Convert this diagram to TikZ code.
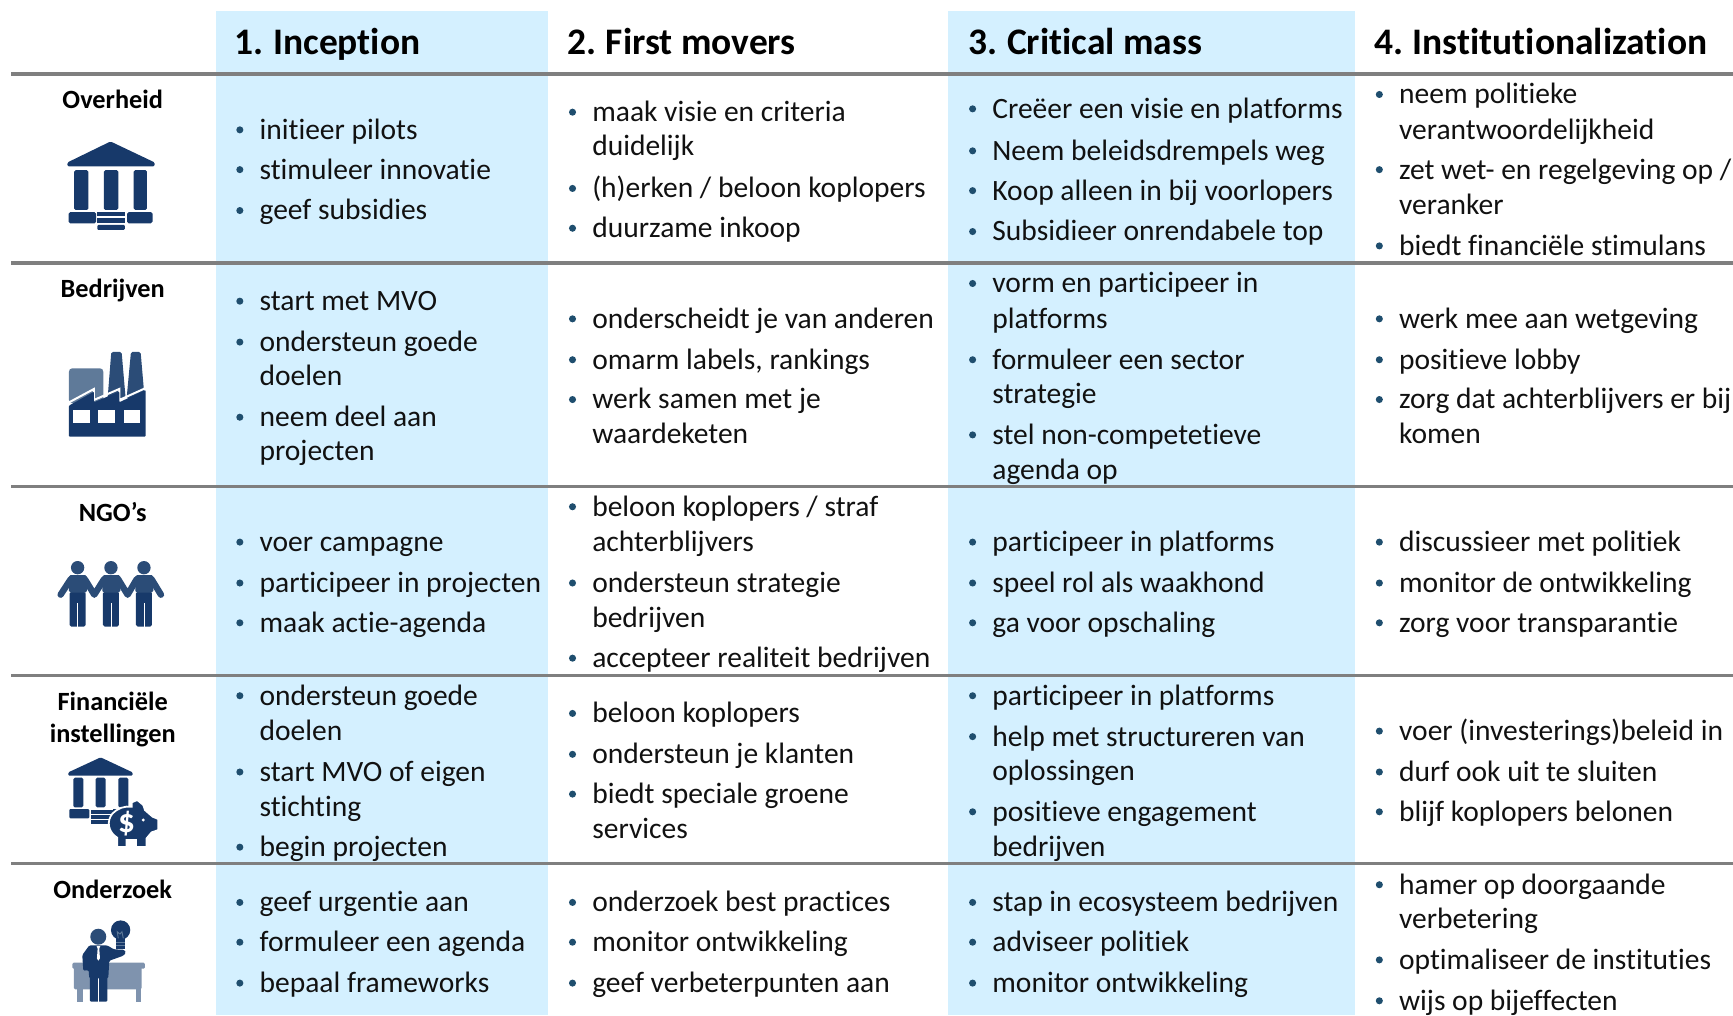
\documentclass[tikz,border=0pt]{standalone}
\usepackage{fontspec}
\setmainfont[RawFeature={-liga;-clig;-dlig}]{Carlito}
\definecolor{band}{HTML}{D4F0FF}
\definecolor{rule}{HTML}{7F7F7F}
\definecolor{bul}{HTML}{1F4E6E}
\definecolor{txt}{HTML}{111111}
\definecolor{navy}{HTML}{17396A}
\definecolor{navyb}{HTML}{2B4C77}
\definecolor{navyc}{HTML}{5F7A99}
\definecolor{navyd}{HTML}{7F93AE}
\newcount\itemno
\tikzset{
  bodytext/.style={anchor=base west,inner sep=0pt,text=txt,font=\fontsize{13.35}{16}\selectfont},
  headtext/.style={anchor=base west,inner sep=0pt,text=black,font=\fontsize{16.95}{20}\bfseries\selectfont},
  rowtext/.style={anchor=base,inner sep=0pt,text=black,font=\fontsize{11.9}{14}\bfseries\selectfont},
  hline/.style={draw=rule,line width=1.4pt},
  armline/.style={draw=navyb,line width=2.9pt,line cap=round,line join=round}
}
\newcommand{\citem}[3]{\global\advance\itemno by 1 \node[bodytext] (t\the\itemno) at ({#1-0.5},{#2+9}) {#3};}
\newcommand{\bitem}[3]{\fill[bul] ({#1-18},{#2+0.5}) circle (3.2); \citem{#1}{#2}{#3}}
\begin{document}
\begin{tikzpicture}[x=0.5pt,y=-0.5pt]
\useasboundingbox (0,0) rectangle (1568,918.4);
\fill[band] (195,10) rectangle (496,918.4);
\fill[band] (858,10) rectangle (1226,918.4);
\foreach \yy/\nm in {67/a,238/b,440/c,611/d,781/e} \draw[hline] (10,\yy) coordinate (l\nm) -- (1568,\yy) coordinate (r\nm);
% headers
\node[headtext] (h1) at (212,49) {1. \kern-0.8pt Inception};
\node[headtext] (h2) at (513,49) {2. \kern-0.8pt First movers};
\node[headtext] (h3) at (876,49) {3. \kern-0.8pt Critical mass};
\node[headtext] (h4) at (1243,49) {4. \kern-0.8pt Institutionalization};
% row labels
\node[rowtext] (r1) at (102,98) {Overheid};
\node[rowtext] (r2) at (102,269) {Bedrijven};
\node[rowtext] (r3) at (102,471.5) {NGO’s};
\node[rowtext] (r4a) at (102,642.5) {Financiële};
\node[rowtext] (r4b) at (102,671.5) {instellingen};
\node[rowtext] (r5) at (102,812.5) {Onderzoek};
% col 1
\bitem{235}{117}{initieer pilots}
\bitem{235}{153}{stimuleer innovatie}
\bitem{235}{190}{geef subsidies}
\bitem{235}{272}{start met MVO}
\bitem{235}{309}{ondersteun goede}
\citem{235}{340}{doelen}
\bitem{235}{377}{neem deel aan}
\citem{235}{408}{projecten}
\bitem{235}{490}{voer campagne}
\bitem{235}{527}{participeer in projecten}
\bitem{235}{563}{maak actie-agenda}
\bitem{235}{629}{ondersteun goede}
\citem{235}{661}{doelen}
\bitem{235}{698}{start MVO of eigen}
\citem{235}{730}{stichting}
\bitem{235}{766}{begin projecten}
\bitem{235}{816}{geef urgentie aan}
\bitem{235}{852}{formuleer een agenda}
\bitem{235}{889}{bepaal frameworks}
% col 2
\bitem{536}{101}{maak visie en criteria}
\citem{536}{132}{duidelijk}
\bitem{536}{170}{(h)erken / beloon koplopers}
\bitem{536}{206}{duurzame inkoop}
\bitem{536}{288}{onderscheidt je van anderen}
\bitem{536}{325}{omarm labels, rankings}
\bitem{536}{361}{werk samen met je}
\citem{536}{392}{waardeketen}
\bitem{536}{458}{beloon koplopers / straf}
\citem{536}{490}{achterblijvers}
\bitem{536}{527}{ondersteun strategie}
\citem{536}{559}{bedrijven}
\bitem{536}{595}{accepteer realiteit bedrijven}
\bitem{536}{645}{beloon koplopers}
\bitem{536}{682}{ondersteun je klanten}
\bitem{536}{718}{biedt speciale groene}
\citem{536}{750}{services}
\bitem{536}{816}{onderzoek best practices}
\bitem{536}{852}{monitor ontwikkeling}
\bitem{536}{889}{geef verbeterpunten aan}
% col 3
\bitem{898}{98}{Creëer een visie en platforms}
\bitem{898}{136}{Neem beleidsdrempels weg}
\bitem{898}{172}{Koop alleen in bij voorlopers}
\bitem{898}{209}{Subsidieer onrendabele top}
\bitem{898}{256}{vorm en participeer in}
\citem{898}{288}{platforms}
\bitem{898}{325}{formuleer een sector}
\citem{898}{356}{strategie}
\bitem{898}{393}{stel non-competetieve}
\citem{898}{425}{agenda op}
\bitem{898}{490}{participeer in platforms}
\bitem{898}{527}{speel rol als waakhond}
\bitem{898}{563}{ga voor opschaling}
\bitem{898}{629}{participeer in platforms}
\bitem{898}{666}{help met structureren van}
\citem{898}{697}{oplossingen}
\bitem{898}{734}{positieve engagement}
\citem{898}{766}{bedrijven}
\bitem{898}{816}{stap in ecosysteem bedrijven}
\bitem{898}{852}{adviseer politiek}
\bitem{898}{889}{monitor ontwikkeling}
% col 4
\bitem{1266}{85}{neem politieke}
\citem{1266}{117}{verantwoordelijkheid}
\bitem{1266}{153}{zet wet- en regelgeving op /}
\citem{1266}{185}{veranker}
\bitem{1266}{222}{biedt financiële stimulans}
\bitem{1266}{288}{werk mee aan wetgeving}
\bitem{1266}{325}{positieve lobby}
\bitem{1266}{361}{zorg dat achterblijvers er bij}
\citem{1266}{392}{komen}
\bitem{1266}{490}{discussieer met politiek}
\bitem{1266}{527}{monitor de ontwikkeling}
\bitem{1266}{563}{zorg voor transparantie}
\bitem{1266}{661}{voer (investerings)beleid in}
\bitem{1266}{698}{durf ook uit te sluiten}
\bitem{1266}{734}{blijf koplopers belonen}
\bitem{1266}{800}{hamer op doorgaande}
\citem{1266}{831}{verbetering}
\bitem{1266}{868}{optimaliseer de instituties}
\bitem{1266}{905}{wijs op bijeffecten}
% bank icon
\begin{scope}
\fill[navy,rounded corners=0.6pt] (100,128) -- (140,147) -- (140,150.5) -- (61,150.5) -- (61,147) -- cycle;
\foreach \a/\b in {67/80,94/107,121/133} \fill[navy,rounded corners=0.7pt] (\a,154) rectangle (\b,190);
\fill[navy,rounded corners=0.7pt] (62,192) rectangle (87,202);
\fill[navy,rounded corners=0.7pt] (115,192) rectangle (138,202);
\fill[navy] (88,192) rectangle (113,195);
\fill[navy] (88,197) rectangle (113,201.5);
\fill[navy,rounded corners=0.5pt] (88,203.5) rectangle (113,208);
\end{scope}
% factory icon
\begin{scope}[shift={(27.1,307.6)},x=0.1508pt,y=-0.1508pt]
\fill[navyc,rounded corners=1.5pt] (117,190) -- (117,85) -- (220,85) -- (220,190) -- cycle;
\fill[navyb,rounded corners=0.7pt] (233,175) -- (244,36) -- (275,36) -- (287,175) -- cycle;
\fill[navyb,rounded corners=0.7pt] (290,175) -- (303,36) -- (332,36) -- (344,175) -- cycle;
\draw[white,line width=0.9pt] (112,190) -- (192,147) -- (192,180) -- (268,147) -- (268,180) -- (350,143);
\fill[navy,rounded corners=0.4pt] (117,197) -- (192,155) -- (192,187) -- (268,155) -- (268,187) -- (347,150) -- (347,290) -- (117,290) -- cycle;
\foreach \a in {130,205,281} \fill[white] (\a,210) rectangle (\a+50,250);
\end{scope}
% people icon
\begin{scope}[shift={(27.1,488.6)},x=0.1508pt,y=-0.1508pt]
\draw[armline] (122,118) -- (92,164);
\draw[armline] (165,118) -- (193,164) -- (222,118);
\draw[armline] (265,118) -- (293,164) -- (320,118);
\draw[armline] (365,118) -- (393,164);
\foreach \c in {143,243,342}{
  \fill[navyb] (\c,83) circle (20);
  \fill[navy,rounded corners=0.8pt] (\c-24,155) rectangle (\c+24,260);
  \fill[white] (\c-1.2,190) rectangle (\c+1.2,262);
  \fill[navyb,rounded corners=0.8pt] (\c-26,105) rectangle (\c+28,158);
}
\end{scope}
% bank + piggy icon
\begin{scope}[shift={(27.1,674.1)},x=0.1508pt,y=-0.1508pt]
\fill[navy,rounded corners=0.5pt] (212,37) -- (308,82) -- (308,92) -- (115,92) -- (115,82) -- cycle;
\foreach \a in {130,197,265} \fill[navy,rounded corners=0.7pt] (\a,98) rectangle (\a+30,187);
\fill[navy,rounded corners=0.5pt] (118,192) rectangle (178,220);
\fill[navy] (183,195) rectangle (250,206);
\fill[navy] (183,210) rectangle (250,222);
\fill[navy] (183,226) rectangle (240,237);
\fill[navy] (250,192) rectangle (290,200);
\begin{scope}
\clip (200,140) rectangle (400,300);
\fill[navy,draw=white,line width=0.8pt] (305,172) -- (322,165) -- (340,180) -- (345,195) -- (368,215) -- (385,222) -- (385,255) -- (365,262) -- (350,280) -- (350,310) -- (318,310) -- (318,285) -- (290,285) -- (290,310) -- (262,310) -- (262,278) .. controls (235,262) and (228,228) .. (248,205) .. controls (262,190) and (285,182) .. (305,185) -- cycle;
\end{scope}
\fill[white] (340,225) circle (5);
\node[inner sep=0pt,text=white,font=\fontsize{15}{15}\bfseries\selectfont] (dollar) at (290,235) {\$};
\end{scope}
% researcher icon
\begin{scope}[shift={(27.1,823.4)},x=0.1508pt,y=-0.1508pt]
\fill[navyd,rounded corners=0.6pt] (127,158) rectangle (345,176);
\fill[navyd,rounded corners=0.6pt] (132,170) rectangle (335,238);
\fill[navyd] (140,235) rectangle (158,275);
\fill[navyd] (318,235) rectangle (332,275);
\fill[navyb] (205,80) circle (24);
\fill[navy,rounded corners=0.5pt] (180,200) rectangle (232,275);
\fill[white] (204.5,205) rectangle (206.5,277);
\fill[navy,rounded corners=0.6pt] (178,106) -- (232,106) -- (252,118) -- (283,119) -- (288,128) -- (280,137) -- (238,152) -- (235,205) -- (178,205) -- (176,180) -- (160,182) -- (157,135) -- cycle;
\fill[white] (200,108) -- (211,108) -- (208,116) -- (210,145) -- (205,152) -- (201,145) -- (203,116) -- cycle;
\fill[navy] (272,60) circle (29);
\fill[navy] (258,80) rectangle (286,116);
\draw[navyc,line width=0.4pt] (258,97) -- (286,97) (258,105) -- (286,105);
\draw[navyc,line width=0.4pt] (265,85) -- (262,65) -- (270,72) -- (276,65) -- (280,85);
\end{scope}
\end{tikzpicture}
\end{document}
